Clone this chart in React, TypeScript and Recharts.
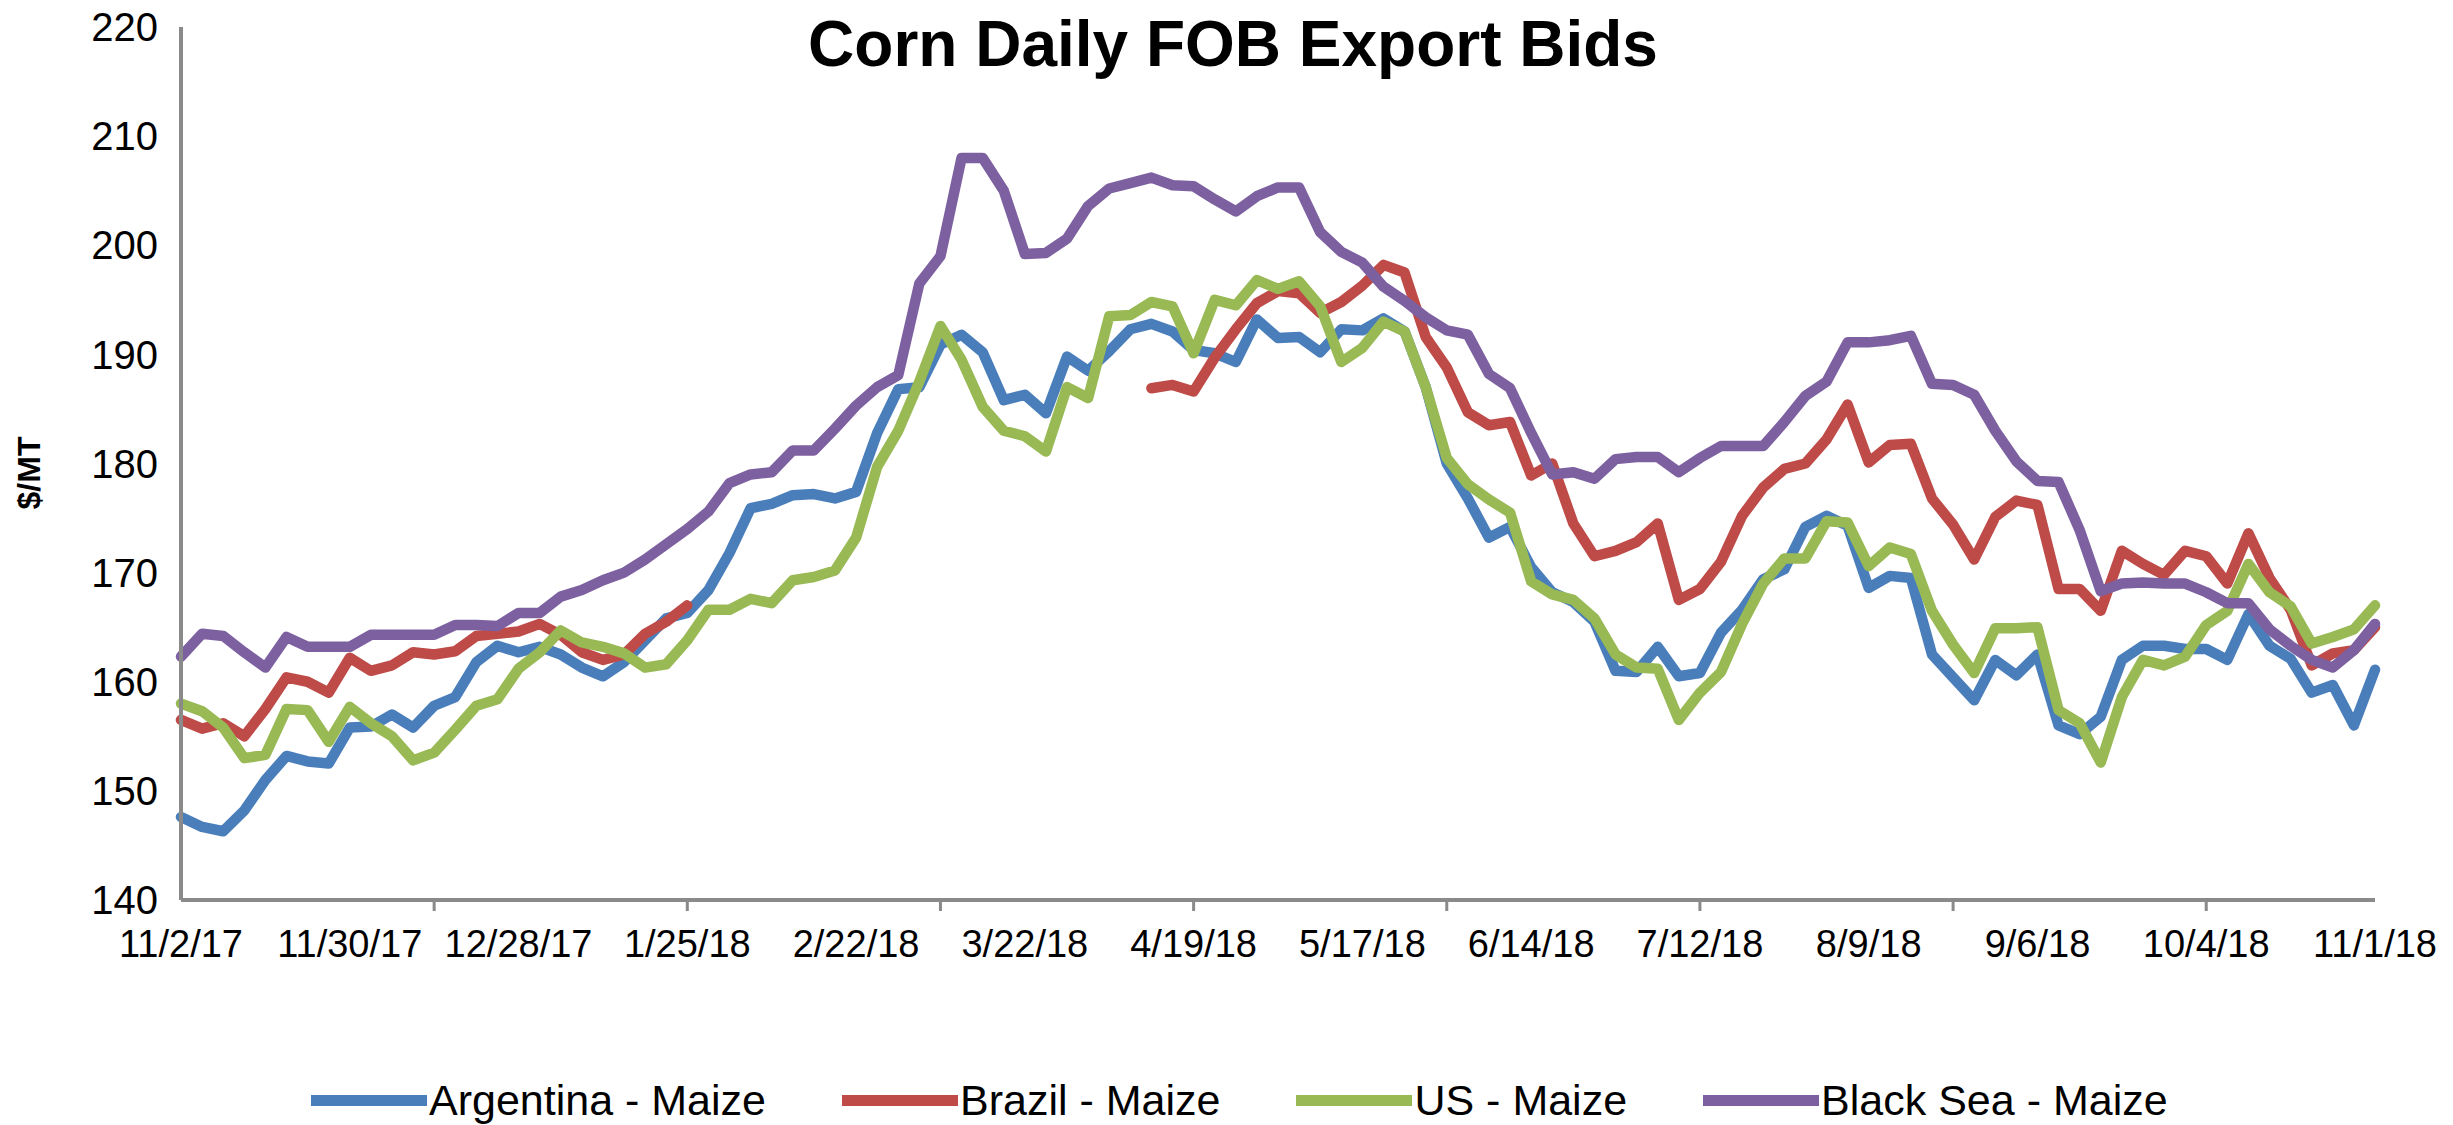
import { LineChart, Line, XAxis, YAxis } from "recharts"

// business-day index from 11/2/17 (0) to 11/1/18 (260), sampled every 2.5 days
const dayIndex = [
  0, 2.5, 5, 7.5, 10, 12.5, 15, 17.5, 20, 22.5, 25, 27.5, 30, 32.5, 35, 37.5, 40, 42.5, 45, 47.5,
  50, 52.5, 55, 57.5, 60, 62.5, 65, 67.5, 70, 72.5, 75, 77.5, 80, 82.5, 85, 87.5, 90, 92.5, 95, 97.5,
  100, 102.5, 105, 107.5, 110, 112.5, 115, 117.5, 120, 122.5, 125, 127.5, 130, 132.5, 135, 137.5, 140, 142.5, 145, 147.5,
  150, 152.5, 155, 157.5, 160, 162.5, 165, 167.5, 170, 172.5, 175, 177.5, 180, 182.5, 185, 187.5, 190, 192.5, 195, 197.5,
  200, 202.5, 205, 207.5, 210, 212.5, 215, 217.5, 220, 222.5, 225, 227.5, 230, 232.5, 235, 237.5, 240, 242.5, 245, 247.5,
  250, 252.5, 255, 257.5, 260,
]

const argentina = [
  147.6, 146.7, 146.3, 148.2, 151, 153.2, 152.7, 152.5, 155.8, 155.9, 157, 155.8, 157.8, 158.6, 161.8, 163.3, 162.7, 163.2, 162.5, 161.3,
  160.5, 161.8, 163.8, 165.8, 166.3, 168.4, 171.8, 175.9, 176.3, 177.1, 177.2, 176.8, 177.4, 182.8, 186.8, 187, 190.9, 191.8, 190.2, 185.8,
  186.3, 184.6, 189.8, 188.5, 190.3, 192.3, 192.8, 192.1, 190.4, 190.1, 189.3, 193.2, 191.5, 191.6, 190.2, 192.3, 192.2, 193.3, 192.1, 187,
  180, 176.8, 173.2, 174.2, 170.5, 168.2, 167.3, 165.5, 161, 160.9, 163.2, 160.5, 160.8, 164.5, 166.6, 169.4, 170.3, 174.2, 175.2, 174.3,
  168.6, 169.7, 169.5, 162.5, 160.4, 158.3, 162, 160.6, 162.5, 156, 155.2, 156.8, 162, 163.3, 163.3, 163, 163, 162, 166.2, 163.3,
  162.1, 159, 159.7, 156, 161.1,
]

const brazil = [
  156.5, 155.7, 156.2, 155, 157.5, 160.4, 160, 159, 162.2, 161, 161.5, 162.7, 162.5, 162.8, 164.2, 164.4, 164.6, 165.3, 164.3, 162.7,
  162, 162.5, 164.4, 165.5, 167, null, null, null, null, null, null, null, null, null, null, null, null, null, null, null,
  null, null, null, null, null, null, 186.9, 187.2, 186.6, 189.7, 192.3, 194.7, 195.8, 195.6, 193.8, 194.8, 196.3, 198.2, 197.5, 191.6,
  188.8, 184.7, 183.5, 183.8, 178.9, 180, 174.5, 171.5, 172, 172.8, 174.5, 167.5, 168.5, 171, 175.2, 177.8, 179.5, 180, 182.2, 185.4,
  180.1, 181.7, 181.8, 176.8, 174.4, 171.2, 175.1, 176.6, 176.2, 168.5, 168.5, 166.5, 172, 170.8, 169.8, 172, 171.5, 169, 173.6, 169.5,
  166.6, 161.5, 162.6, 162.9, 165,
]

const us = [
  158, 157.3, 155.8, 153, 153.3, 157.5, 157.4, 154.5, 157.7, 156.2, 155, 152.8, 153.5, 155.6, 157.8, 158.4, 161.2, 162.7, 164.7, 163.6,
  163.2, 162.6, 161.3, 161.6, 163.8, 166.6, 166.6, 167.6, 167.2, 169.3, 169.6, 170.2, 173.2, 179.7, 183, 187.5, 192.6, 189.5, 185.2, 183,
  182.5, 181.1, 187, 186, 193.5, 193.6, 194.8, 194.4, 190.1, 195, 194.5, 196.8, 196, 196.7, 194.4, 189.3, 190.6, 193, 192.1, 187,
  180.5, 178.1, 176.7, 175.5, 169.2, 168, 167.5, 165.8, 162.5, 161.3, 161.2, 156.5, 159, 160.9, 165.3, 169, 171.3, 171.3, 174.7, 174.6,
  170.6, 172.3, 171.7, 166.5, 163.4, 160.8, 164.9, 164.9, 165, 157.4, 156.2, 152.6, 158.6, 162, 161.5, 162.3, 165.2, 166.5, 170.8, 168.2,
  166.9, 163.5, 164.1, 164.8, 167,
]

const blackSea = [
  162.3, 164.4, 164.2, 162.7, 161.3, 164.1, 163.2, 163.2, 163.2, 164.3, 164.3, 164.3, 164.3, 165.2, 165.2, 165.1, 166.3, 166.3, 167.8, 168.4,
  169.3, 170, 171.2, 172.6, 174, 175.6, 178.2, 179, 179.2, 181.2, 181.2, 183.2, 185.3, 187, 188.1, 196.5, 199, 208, 208, 205,
  199.2, 199.3, 200.6, 203.6, 205.2, 205.7, 206.2, 205.5, 205.4, 204.2, 203.1, 204.5, 205.3, 205.3, 201.2, 199.4, 198.4, 196.2, 194.9, 193.4,
  192.2, 191.8, 188.2, 186.9, 182.8, 179, 179.2, 178.6, 180.4, 180.6, 180.6, 179.2, 180.5, 181.6, 181.6, 181.6, 183.8, 186.2, 187.5, 191.1,
  191.1, 191.3, 191.7, 187.3, 187.2, 186.3, 183, 180.2, 178.4, 178.3, 173.9, 168.3, 169, 169.1, 169, 169, 168.2, 167.2, 167.2, 164.8,
  163.3, 162, 161.3, 162.9, 165.3,
]

const dateLabels = [
  "11/2/17", "11/30/17", "12/28/17", "1/25/18", "2/22/18", "3/22/18", "4/19/18",
  "5/17/18", "6/14/18", "7/12/18", "8/9/18", "9/6/18", "10/4/18", "11/1/18",
]
const yTicks = [140, 150, 160, 170, 180, 190, 200, 210, 220]

const series = [
  { key: "argentina", name: "Argentina - Maize", color: "#4A7EBB" },
  { key: "brazil", name: "Brazil - Maize", color: "#BE4B48" },
  { key: "us", name: "US - Maize", color: "#98B954" },
  { key: "blackSea", name: "Black Sea - Maize", color: "#7D60A0" },
]

const data = dayIndex.map((d, i) => ({
  d,
  argentina: argentina[i],
  brazil: brazil[i],
  us: us[i],
  blackSea: blackSea[i],
}))

// labels every 20 points, tick marks every 30 points (like the Excel original)
const labelEvery = 20
const markEvery = 30
const xTicks = [0, 20, 30, 40, 60, 80, 90, 100, 120, 140, 150, 160, 180, 200, 210, 220, 240, 260]

const font = "'Liberation Sans', Arial, sans-serif"
const axisColor = "#8a8a8a"

function XTick(props: any) {
  const { x, y, payload } = props
  const v = payload.value
  return (
    <g>
      {v % markEvery === 0 && v > 0 && (
        <line x1={x} x2={x} y1={y} y2={y + 11} stroke={axisColor} strokeWidth={3} />
      )}
      {v % labelEvery === 0 && (
        <text x={x} y={y + 57} textAnchor="middle" fontSize={38} fontFamily={font} fill="#000">
          {dateLabels[v / labelEvery]}
        </text>
      )}
    </g>
  )
}

export default function App() {
  return (
    <div style={{ position: "absolute", left: 0, top: 0, width: 2453, height: 1125, background: "#fff", fontFamily: font }}>
      <LineChart width={2453} height={1125} data={data} margin={{ top: 27, right: 78, bottom: 125, left: 0 }}>
        <XAxis
          dataKey="d"
          type="number"
          domain={[0, 260]}
          ticks={xTicks}
          interval={0}
          tick={<XTick />}
          tickLine={false}
          tickSize={0}
          tickMargin={0}
          height={100}
          axisLine={{ stroke: axisColor, strokeWidth: 4 }}
        />
        <YAxis
          domain={[140, 220]}
          ticks={yTicks}
          interval={0}
          width={181}
          tickLine={false}
          tickSize={0}
          tickMargin={23}
          axisLine={{ stroke: axisColor, strokeWidth: 4 }}
          tick={{ fontSize: 40, fill: "#000", fontFamily: font }}
        />
        {series.map((s) => (
          <Line
            key={s.key}
            dataKey={s.key}
            name={s.name}
            stroke={s.color}
            strokeWidth={10.5}
            strokeLinejoin="round"
            strokeLinecap="round"
            dot={false}
            activeDot={false}
            type="linear"
            isAnimationActive={false}
          />
        ))}
      </LineChart>

      <div style={{ position: "absolute", left: 1233, top: 12, transform: "translateX(-50%)", fontSize: 64, fontWeight: "bold", lineHeight: 1, whiteSpace: "nowrap" }}>
        Corn Daily FOB Export Bids
      </div>

      <div style={{ position: "absolute", left: 29, top: 473, transform: "translate(-50%, -50%) rotate(-90deg)", fontSize: 32, fontWeight: "bold", lineHeight: 1, whiteSpace: "nowrap" }}>
        $/MT
      </div>

      <div style={{ position: "absolute", left: 311, top: 1078, display: "flex", alignItems: "center", fontSize: 43, lineHeight: "44px", whiteSpace: "nowrap" }}>
        {series.map((s, i) => (
          <div key={s.key} style={{ display: "flex", alignItems: "center", marginLeft: i === 0 ? 0 : 76 }}>
            <span style={{ display: "inline-block", width: 116, height: 11, background: s.color, marginRight: 2 }} />
            <span>{s.name}</span>
          </div>
        ))}
      </div>
    </div>
  )
}
